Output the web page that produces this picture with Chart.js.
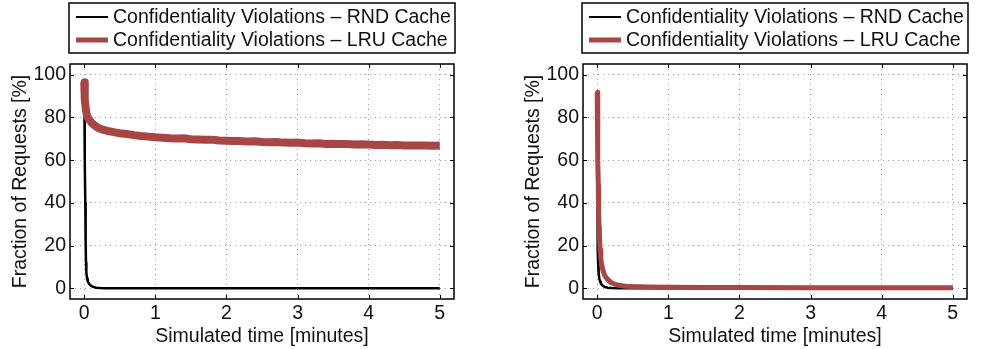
<!DOCTYPE html>
<html>
<head>
<meta charset="utf-8">
<script src="https://cdn.jsdelivr.net/npm/chart.js@4/dist/chart.umd.min.js"></script>
<style>
  html, body { margin: 0; padding: 0; background: #fff; }
  body { width: 984px; height: 349px; position: relative; overflow: hidden; }
  .wrap { position: absolute; top: 0; height: 349px; }
  #w1 { left: 0; width: 492px; }
  #w2 { left: 513px; width: 471px; }
</style>
</head>
<body>
<div class="wrap" id="w1"><canvas id="c1" width="492" height="349"></canvas></div>
<div class="wrap" id="w2"><canvas id="c2" width="471" height="349"></canvas></div>
<script>
// ---- labels and ticks ----
const seriesLabels = ['Confidentiality Violations \u2013 RND Cache', 'Confidentiality Violations \u2013 LRU Cache'];
const xTitle = 'Simulated time [minutes]';
const yTitle = 'Fraction of Requests [%]';
const xTicks = [0, 1, 2, 3, 4, 5];
const yTicks = [0, 20, 40, 60, 80, 100];

// ---- left panel: RND cache (black) ----
const rndLeftTime  = [0, 0.005, 0.01, 0.015, 0.02, 0.025, 0.03, 0.04, 0.05, 0.07, 0.1, 0.13, 0.17, 0.22, 0.3, 1, 2, 3, 4, 5];
const rndLeftValue = [97, 80, 60, 40, 22, 12, 7.5, 4.5, 3.2, 2.0, 1.1, 0.6, 0.3, 0.1, 0, 0, 0, 0, 0, 0];

// ---- left panel: LRU cache (red) ----
const lruLeftTime = [0, 0.005, 0.01, 0.02, 0.03, 0.04, 0.06, 0.08, 0.1, 0.13, 0.16, 0.2, 0.25, 0.3, 0.35, 0.4, 0.45,
  0.5, 0.6, 0.7, 0.8, 0.9, 1.0, 1.1, 1.2, 1.3, 1.4, 1.5, 1.6, 1.7, 1.8, 1.9, 2.0, 2.1, 2.2, 2.3, 2.4, 2.5, 2.6, 2.7, 2.8, 2.9,
  3.0, 3.1, 3.2, 3.3, 3.4, 3.5, 3.6, 3.7, 3.8, 3.9, 4.0, 4.1, 4.2, 4.3, 4.4, 4.5, 4.6, 4.7, 4.8, 4.9, 5.0];
const lruLeftValue = [96.5, 92, 88.5, 84.5, 82.3, 80.8, 79.4, 78.6, 77.6, 76.7, 75.9, 75.0, 74.4, 73.9, 73.5, 73.2, 72.9,
  72.6, 72.2, 71.7, 71.3, 71.0, 70.7, 70.5, 70.2, 70.1, 70.2, 69.8, 69.7, 69.5, 69.6, 69.2, 69.1, 69.0, 68.9, 68.7, 68.8, 68.5, 68.4, 68.5, 68.2, 68.1,
  68.2, 67.9, 67.8, 67.9, 67.6, 67.7, 67.5, 67.6, 67.3, 67.4, 67.3, 67.1, 67.2, 67.0, 67.1, 66.9, 66.9, 66.8, 66.9, 66.7, 66.8];

// ---- right panel: RND cache (black) ----
const rndRightTime  = [0, 0.003, 0.006, 0.01, 0.015, 0.02, 0.03, 0.04, 0.05, 0.07, 0.1, 0.15, 0.2, 0.3, 1, 2, 3, 4, 5];
const rndRightValue = [90, 60, 40, 18, 10, 7, 4.5, 3.2, 2.4, 1.4, 0.7, 0.3, 0.1, 0, 0, 0, 0, 0, 0];

// ---- right panel: LRU cache (red) ----
const lruRightTime  = [0, 0.005, 0.01, 0.015, 0.02, 0.025, 0.03, 0.04, 0.05, 0.06, 0.08, 0.1, 0.12, 0.15, 0.2, 0.25, 0.3, 0.4, 0.5, 0.7, 1.0, 1.5, 2, 3, 4, 5];
const lruRightValue = [91.8, 75, 60, 48, 36, 29, 25, 18, 14, 11.5, 8.5, 6.5, 5.3, 4.0, 2.6, 1.9, 1.4, 1.0, 0.8, 0.6, 0.5, 0.4, 0.35, 0.3, 0.3, 0.3];

const RED = '#a84545';
const FONT = '"Liberation Sans", Arial, Helvetica, sans-serif';
const FS = 19.5;

function pts(t, v) { return t.map((x, i) => ({ x: x, y: v[i] })); }

const framePlugin = {
  id: 'frame',
  afterDraw(chart) {
    const ctx = chart.ctx;
    const a = chart.chartArea;
    const xs = chart.scales.x, ys = chart.scales.y;
    ctx.save();
    // inward tick marks
    ctx.strokeStyle = '#000';
    ctx.lineWidth = 1;
    ctx.beginPath();
    xTicks.forEach(v => {
      const px = Math.round(xs.getPixelForValue(v)) + 0.5;
      ctx.moveTo(px, a.bottom); ctx.lineTo(px, a.bottom - 4);
      ctx.moveTo(px, a.top); ctx.lineTo(px, a.top + 4);
    });
    yTicks.forEach(v => {
      const py = Math.round(ys.getPixelForValue(v)) + 0.5;
      ctx.moveTo(a.left, py); ctx.lineTo(a.left + 4, py);
      ctx.moveTo(a.right, py); ctx.lineTo(a.right - 4, py);
    });
    ctx.stroke();
    // axes box
    ctx.lineWidth = 1.5;
    ctx.strokeRect(a.left, a.top, a.right - a.left, a.bottom - a.top);
    // legend box
    const lx = a.left - 1, ly = 3, lw = a.right - a.left + 2, lh = 50;
    ctx.fillStyle = '#fff';
    ctx.fillRect(lx, ly, lw, lh);
    ctx.lineWidth = 1.5;
    ctx.strokeRect(lx, ly, lw, lh);
    const rows = [
      { y: ly + 14, color: '#000', w: 2 },
      { y: ly + 37, color: RED, w: 5 }
    ];
    ctx.font = FS + 'px ' + FONT;
    ctx.textBaseline = 'middle';
    ctx.textAlign = 'left';
    rows.forEach((r, i) => {
      ctx.beginPath();
      ctx.strokeStyle = r.color;
      ctx.lineWidth = r.w;
      ctx.moveTo(lx + 7, r.y);
      ctx.lineTo(lx + 39, r.y);
      ctx.stroke();
      ctx.fillStyle = '#111';
      ctx.fillText(seriesLabels[i], lx + 44, r.y + 1);
    });
    ctx.restore();
  }
};

function makeChart(id, rT, rV, lT, lV, lruWidth, rightPad) {
  return new Chart(document.getElementById(id), {
    type: 'line',
    data: {
      datasets: [
        { label: seriesLabels[1], data: pts(lT, lV), borderColor: RED, borderWidth: lruWidth, pointRadius: 0, tension: 0, order: 1, borderJoinStyle: 'round', borderCapStyle: 'butt' },
        { label: seriesLabels[0], data: pts(rT, rV), borderColor: '#000', borderWidth: 2.5, pointRadius: 0, tension: 0, order: 2, borderJoinStyle: 'round' }
      ]
    },
    options: {
      responsive: false,
      animation: false,
      devicePixelRatio: 1,
      layout: { padding: { top: 64, right: rightPad, left: 0, bottom: 0 } },
      plugins: { legend: { display: false }, tooltip: { enabled: false } },
      scales: {
        x: {
          type: 'linear', min: -0.2, max: 5.2,
          afterBuildTicks: s => { s.ticks = xTicks.map(v => ({ value: v })); },
          afterFit: s => { s.height = 50; },
          grid: { color: '#9a9a9a', lineWidth: 1, drawTicks: false },
          border: { display: false, dash: [1, 4] },
          ticks: { padding: 3, color: '#111', font: { family: FONT, size: FS }, maxRotation: 0, autoSkip: false },
          title: { display: true, text: xTitle, color: '#111', font: { family: FONT, size: FS }, padding: { top: 0, bottom: 1 } }
        },
        y: {
          type: 'linear', min: -5, max: 105,
          afterBuildTicks: s => { s.ticks = yTicks.map(v => ({ value: v })); },
          afterFit: s => { s.width = 70; },
          grid: { color: '#9a9a9a', lineWidth: 1, drawTicks: false },
          border: { display: false, dash: [1, 4] },
          ticks: { padding: 4, color: '#111', font: { family: FONT, size: FS }, autoSkip: false },
          title: { display: true, text: yTitle, color: '#111', font: { family: FONT, size: FS }, padding: { top: 9, bottom: 0 } }
        }
      }
    },
    plugins: [framePlugin]
  });
}

const c1 = makeChart('c1', rndLeftTime, rndLeftValue, lruLeftTime, lruLeftValue, 8, 38);
const c2 = makeChart('c2', rndRightTime, rndRightValue, lruRightTime, lruRightValue, 5, 17);
</script>
</body>
</html>
